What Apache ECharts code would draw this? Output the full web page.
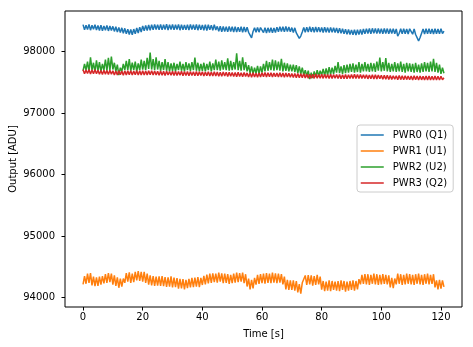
<!DOCTYPE html>
<html>
<head>
<meta charset="utf-8">
<script src="https://cdn.jsdelivr.net/npm/echarts@6/dist/echarts.min.js"></script>
<style>
html,body{margin:0;padding:0;background:#fff;}
#chart{width:473px;height:347px;}
</style>
</head>
<body>
<div id="chart"></div>
<script>
// Sampling step of the recorded signals (seconds)
const sampleStep = 0.5;
const seriesNames = ['PWR0 (Q1)', 'PWR1 (U1)', 'PWR2 (U2)', 'PWR3 (Q2)'];
const xTicks = [0, 20, 40, 60, 80, 100, 120];
const yTicks = [94000, 95000, 96000, 97000, 98000];

const pwr0 = [
98440,98355,98432,98360,98445,98350,98430,98365,98438,98352,
98425,98345,98432,98340,98420,98350,98428,98338,98418,98345,
98412,98330,98405,98318,98395,98310,98388,98300,98380,98290,
98365,98280,98360,98275,98368,98290,98385,98305,98400,98320,
98420,98340,98428,98345,98435,98350,98440,98355,98445,98360,
98440,98358,98445,98355,98438,98362,98448,98352,98440,98360,
98442,98355,98438,98360,98445,98350,98440,98358,98436,98355,
98440,98352,98445,98360,98438,98355,98442,98350,98440,98358,
98435,98350,98440,98345,98438,98355,98432,98348,98440,98352,
98412,98330,98415,98325,98410,98330,98405,98322,98412,98328,
98405,98320,98408,98318,98400,98322,98405,98315,98402,98320,
98398,98315,98270,98225,98330,98390,98315,98395,98318,98392,
98390,98310,98392,98305,98388,98312,98390,98308,98386,98310,
98400,98325,98408,98330,98405,98322,98410,98328,98402,98325,
98392,98312,98388,98305,98290,98215,98255,98320,98395,98315,
98400,98318,98405,98322,98398,98315,98402,98320,98400,98318,
98395,98312,98398,98315,98392,98310,98396,98314,98390,98312,
98385,98302,98380,98298,98372,98290,98365,98282,98360,98280,
98355,98275,98358,98272,98356,98278,98360,98280,98368,98290,
98375,98295,98378,98292,98380,98298,98376,98294,98378,98295,
98375,98292,98378,98295,98376,98290,98372,98295,98375,98292,
98370,98255,98300,98372,98290,98375,98292,98370,98288,98372,
98365,98285,98368,98280,98260,98175,98230,98300,98368,98288,
98372,98290,98375,98292,98370,98288,98374,98292,98370,98290,
98372,98295,98335
];

const pwr1 = [
94215,94350,94225,94390,94240,94400,94200,94340,94185,94330,
94190,94340,94210,94350,94230,94380,94240,94400,94250,94390,
94210,94360,94190,94330,94160,94310,94180,94310,94240,94400,
94260,94410,94240,94390,94250,94420,94280,94430,94270,94420,
94260,94420,94240,94390,94210,94360,94200,94350,94190,94340,
94195,94345,94190,94350,94185,94335,94175,94330,94180,94345,
94165,94325,94170,94315,94145,94305,94150,94300,94135,94290,
94155,94305,94165,94320,94170,94325,94180,94335,94170,94320,
94205,94355,94215,94375,94230,94390,94240,94395,94250,94390,
94245,94405,94260,94395,94235,94390,94240,94380,94225,94370,
94235,94390,94245,94405,94250,94400,94260,94405,94235,94380,
94180,94310,94135,94290,94150,94320,94210,94370,94225,94380,
94235,94390,94225,94400,94240,94390,94235,94405,94245,94395,
94235,94390,94245,94380,94215,94340,94135,94290,94125,94280,
94125,94280,94115,94270,94085,94220,94065,94240,94235,94360,
94205,94365,94215,94360,94195,94350,94205,94370,94215,94340,
94130,94270,94105,94260,94115,94280,94105,94270,94125,94260,
94115,94270,94105,94280,94125,94270,94095,94260,94115,94270,
94125,94280,94115,94270,94135,94300,94215,94370,94225,94380,
94215,94380,94205,94370,94225,94390,94215,94380,94205,94370,
94215,94380,94225,94370,94215,94360,94165,94320,94155,94310,
94215,94390,94225,94380,94205,94370,94215,94390,94225,94380,
94215,94370,94205,94380,94225,94390,94215,94370,94205,94380,
94225,94390,94215,94370,94225,94380,94165,94280,94135,94290,
94145,94280,94175
];

const pwr2 = [
97690,97800,97700,97840,97680,97910,97700,97820,97670,97860,
97690,97830,97680,97800,97700,97870,97690,97900,97700,97920,
97710,97820,97680,97790,97620,97740,97680,97800,97700,97850,
97700,97880,97690,97820,97700,97840,97680,97810,97700,97870,
97710,97850,97700,97900,97720,97985,97710,97880,97700,97910,
97710,97850,97690,97830,97700,97880,97690,97830,97680,97810,
97690,97820,97680,97800,97700,97840,97690,97800,97680,97830,
97700,97810,97690,97830,97700,97905,97690,97820,97680,97800,
97690,97820,97680,97800,97700,97840,97680,97810,97700,97870,
97700,97840,97690,97860,97710,97830,97700,97890,97690,97850,
97700,97830,97710,97975,97700,97850,97690,97910,97700,97830,
97680,97780,97650,97760,97640,97740,97650,97770,97640,97760,
97660,97800,97680,97850,97690,97830,97700,97870,97690,97860,
97700,97840,97690,97885,97680,97820,97690,97810,97680,97790,
97680,97790,97670,97780,97650,97760,97640,97740,97620,97700,
97600,97690,97555,97660,97570,97680,97590,97700,97600,97690,
97620,97720,97610,97730,97620,97750,97630,97740,97640,97770,
97660,97830,97650,97760,97640,97780,97650,97790,97660,97800,
97670,97810,97660,97790,97670,97830,97660,97800,97680,97830,
97680,97800,97670,97820,97680,97810,97670,97840,97690,97905,
97680,97830,97690,97895,97680,97820,97670,97800,97680,97830,
97670,97810,97680,97840,97670,97800,97660,97820,97680,97810,
97670,97800,97660,97820,97670,97790,97660,97810,97670,97830,
97680,97820,97670,97840,97680,97885,97670,97820,97660,97790,
97640,97740,97650
];

const pwr3 = [
97705,97640,97700,97645,97708,97638,97702,97642,97706,97640,
97698,97632,97695,97630,97700,97635,97694,97628,97697,97632,
97688,97622,97686,97620,97690,97625,97684,97618,97688,97622,
97688,97624,97690,97620,97686,97625,97692,97622,97688,97620,
97690,97622,97686,97620,97688,97624,97692,97620,97686,97622,
97682,97616,97685,97618,97680,97614,97684,97620,97678,97616,
97680,97614,97682,97612,97678,97616,97680,97610,97676,97614,
97676,97610,97678,97612,97674,97608,97678,97610,97672,97612,
97672,97606,97670,97608,97674,97604,97668,97606,97672,97605,
97668,97602,97666,97600,97670,97604,97665,97598,97667,97602,
97662,97596,97660,97594,97664,97598,97658,97592,97660,97596,
97655,97588,97652,97586,97656,97590,97650,97586,97654,97588,
97658,97592,97660,97590,97656,97594,97658,97588,97655,97592,
97655,97588,97656,97590,97652,97586,97655,97588,97650,97586,
97645,97580,97644,97578,97646,97576,97642,97578,97640,97574,
97635,97570,97634,97568,97632,97566,97636,97568,97630,97570,
97632,97566,97635,97568,97630,97564,97634,97566,97628,97568,
97628,97563,97630,97560,97626,97562,97628,97558,97625,97563,
97630,97564,97632,97566,97628,97563,97630,97566,97626,97564,
97625,97558,97622,97560,97626,97556,97624,97558,97620,97560,
97616,97550,97615,97553,97618,97548,97614,97550,97610,97553,
97610,97544,97612,97546,97608,97543,97610,97546,97606,97544,
97606,97540,97608,97543,97604,97540,97606,97542,97602,97540,
97604,97538,97605,97540,97602,97538,97604,97541,97600,97540,
97600,97543,97575
];

const colors = ['#1f77b4', '#ff7f0e', '#2ca02c', '#d62728'];
const allValues = [pwr0, pwr1, pwr2, pwr3];

const FONT = 'DejaVu Sans';
const chart = echarts.init(document.getElementById('chart'), null, {renderer: 'canvas'});

function pairs(vals) {
  return vals.map((v, i) => [i * sampleStep, v]);
}

chart.setOption({
  animation: false,
  backgroundColor: '#ffffff',
  grid: {
    left: 65, right: 11, top: 11, bottom: 40,
    containLabel: false,
    outerBoundsMode: 'none',
    show: true, borderColor: '#000000', borderWidth: 1, backgroundColor: 'transparent'
  },
  xAxis: {
    type: 'value',
    min: -6.05, max: 127.05,
    name: 'Time [s]',
    nameLocation: 'middle',
    nameGap: 22,
    nameMoveOverlap: false,
    nameTextStyle: {fontFamily: FONT, fontSize: 10, color: '#000'},
    axisLine: {show: false, onZero: false},
    splitLine: {show: false},
    axisTick: {show: true, length: 3.5, inside: false, lineStyle: {color: '#000', width: 1}, customValues: xTicks},
    axisLabel: {show: true, margin: 5, fontFamily: FONT, fontSize: 10, color: '#000', customValues: xTicks,
      formatter: v => String(v)}
  },
  yAxis: {
    type: 'value',
    min: 93847, max: 98662,
    name: 'Output [ADU]',
    nameLocation: 'middle',
    nameGap: 47,
    nameMoveOverlap: false,
    nameTextStyle: {fontFamily: FONT, fontSize: 10, color: '#000'},
    axisLine: {show: false, onZero: false},
    splitLine: {show: false},
    axisTick: {show: true, length: 3.5, inside: false, lineStyle: {color: '#000', width: 1}, customValues: yTicks},
    axisLabel: {show: true, margin: 10, fontFamily: FONT, fontSize: 10, color: '#000', customValues: yTicks,
      formatter: v => String(v)}
  },
  legend: {
    orient: 'vertical',
    left: 357, top: 125,
    padding: [5, 6, 4, 3],
    itemWidth: 23, itemHeight: 10, itemGap: 6,
    borderColor: '#cccccc', borderWidth: 1, borderRadius: 3,
    backgroundColor: 'rgba(255,255,255,0.8)',
    itemStyle: {opacity: 0},
    lineStyle: {width: 1.5},
    textStyle: {fontFamily: FONT, fontSize: 10, color: '#000', padding: [0, 0, 0, 4]},
    data: seriesNames
  },
  series: allValues.map((vals, k) => ({
    name: seriesNames[k],
    type: 'line',
    symbol: 'none',
    showSymbol: false,
    sampling: 'none',
    lineStyle: {width: 1.5, color: colors[k]},
    itemStyle: {color: colors[k]},
    data: pairs(vals)
  }))
});
</script>
</body>
</html>
